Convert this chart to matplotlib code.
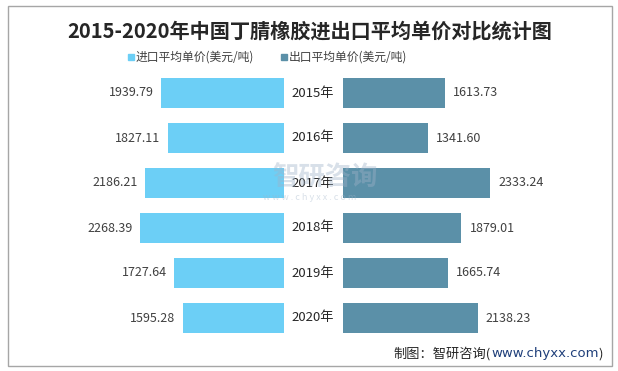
import matplotlib
matplotlib.use("Agg")
import matplotlib.pyplot as plt
import matplotlib.transforms as mtransforms
from matplotlib.patches import Rectangle

plt.rcParams['font.family'] = ['Noto Sans CJK SC', 'DejaVu Sans']

years = ["2015年", "2016年", "2017年", "2018年", "2019年", "2020年"]
import_price = [1939.79, 1827.11, 2186.21, 2268.39, 1727.64, 1595.28]
export_price = [1613.73, 1341.60, 2333.24, 1879.01, 1665.74, 2138.23]

title = "2015-2020年中国丁腈橡胶进出口平均单价对比统计图"
legend_labels = ["进口平均单价(美元/吨)", "出口平均单价(美元/吨)"]
c_import = "#6CCFF6"
c_export = "#5B90A8"

W, H = 618, 371
fig = plt.figure(figsize=(W / 100, H / 100), dpi=100)

def px_axes(x0, x1, ytop, ybot):
    return fig.add_axes([x0 / W, (H - ybot) / H, (x1 - x0) / W, (ybot - ytop) / H])

ytop, ybot = 70.5, 340.5
axL = px_axes(60, 284, ytop, ybot)
axR = px_axes(343, 560, ytop, ybot)

pos = list(range(len(years)))
barh = 0.667
axL.barh(pos, import_price, height=barh, color=c_import)
axR.barh(pos, export_price, height=barh, color=c_export)
axL.set_xlim(224 / 0.0634, 0)
axR.set_xlim(0, 217 / 0.0630)
for ax in (axL, axR):
    ax.set_ylim(len(years) - 0.5, -0.5)
    ax.axis("off")

for i, v in enumerate(import_price):
    axL.annotate(f"{v:.2f}", (v, i), xytext=(-5.5, 0), textcoords="offset points",
                 ha="right", va="center", fontsize=9, color="#404040")
for i, v in enumerate(export_price):
    axR.annotate(f"{v:.2f}", (v, i), xytext=(5.8, 0), textcoords="offset points",
                 ha="left", va="center", fontsize=9, color="#404040")

tr = mtransforms.blended_transform_factory(fig.transFigure, axL.transData)
for i, y in enumerate(years):
    fig.text(313 / W, i, y, transform=tr, ha="center", va="center",
             fontsize=9.5, color="#262626")

# Title
fig.text(310 / W, (H - 31) / H, title, ha="center", va="center",
         fontsize=14.5, fontweight="bold", color="#262626")

# Legend
for (mx, lab, col) in [(131, legend_labels[0], c_import), (284, legend_labels[1], c_export)]:
    fig.patches.append(Rectangle(((mx - 3) / W, (H - 60) / H), 6 / W, 6 / H,
                                 transform=fig.transFigure, color=col))
    fig.text((mx + 5) / W, (H - 57) / H, lab, ha="left", va="center",
             fontsize=8.5, color="#404040")

# Watermark
fig.text(325 / W, (H - 178) / H, "智研咨询", ha="center", va="center",
         fontsize=19, color="#9FB3C8", alpha=0.4, fontweight="bold")
fig.text(310 / W, (H - 198) / H, "w w w . c h y x x . c o m", ha="center", va="center",
         fontsize=6.5, color="#9FB3C8", alpha=0.4)

# Border
fig.patches.append(Rectangle((7.5 / W, (H - 366) / H), (612 - 7.5) / W, (366 - 5.5) / H,
                             transform=fig.transFigure, fill=False,
                             edgecolor="#A6A6A6", linewidth=1))

# Footer
fig.canvas.draw()
r = fig.canvas.get_renderer()
x = 603
fy = (H - 354) / H
t3 = fig.text(x / W, fy, ")", ha="right", va="center", fontsize=9.5, color="#262626")
x -= t3.get_window_extent(r).width
t2 = fig.text(x / W, fy, "www.chyxx.com", ha="right", va="center", fontsize=9.5,
              color="#1F3F7A", family=['DejaVu Sans'])
x -= t2.get_window_extent(r).width
t1 = fig.text(x / W, fy, "制图：智研咨询(", ha="right", va="center", fontsize=9.5,
              color="#262626")

fig.savefig("out.png", dpi=100)
